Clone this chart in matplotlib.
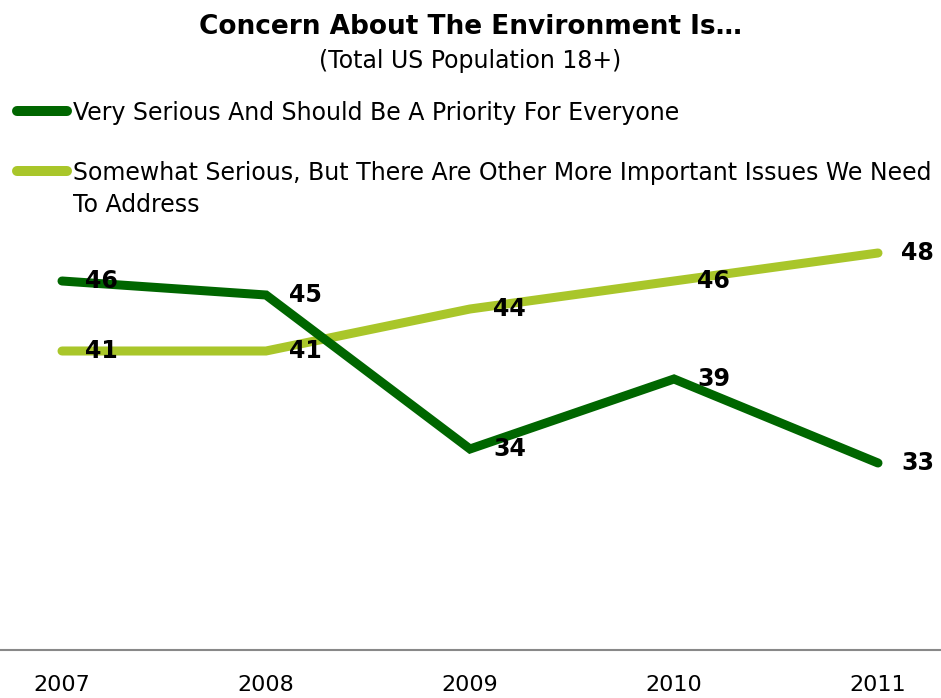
import matplotlib
matplotlib.use("Agg")
import matplotlib.pyplot as plt
from matplotlib.lines import Line2D

years = [2007, 2008, 2009, 2010, 2011]
very_serious = [46, 45, 34, 39, 33]
somewhat_serious = [41, 41, 44, 46, 48]
series_names = ["Very Serious And Should Be A Priority For Everyone",
                "Somewhat Serious, But There Are Other More Important Issues We Need\nTo Address"]
dark_green = "#006600"
light_green = "#A9C62A"

W, H = 941, 698
fig = plt.figure(figsize=(W / 100, H / 100), dpi=100)
plt.rcParams['font.family'] = ['DejaVu Sans']

ax = fig.add_axes([0, (H - 650) / H, 1, (650 - 230) / H])
ax.set_xlim(2007 - 62 / 204, 2007 + 879 / 204)
ax.set_ylim(46 - 369 / 14, 46 + 51 / 14)

ax.plot(years, very_serious, color=dark_green, lw=6.5, solid_capstyle='round', solid_joinstyle='miter', zorder=3)
ax.plot(years, somewhat_serious, color=light_green, lw=6.5, solid_capstyle='round', solid_joinstyle='miter', zorder=2)

for x, a, b in zip(years, very_serious, somewhat_serious):
    for v in (a, b):
        ax.annotate(str(v), (x, v), xytext=(28.5, 0), textcoords='offset points',
                    ha='center', va='center', fontsize=17, fontweight='bold', color='black', zorder=5)

for s in ['top', 'right', 'left']:
    ax.spines[s].set_visible(False)
ax.spines['bottom'].set_color('#888888')
ax.spines['bottom'].set_linewidth(1.5)
ax.set_yticks([])
ax.set_xticks(years)
ax.set_xticklabels([str(y) for y in years], fontsize=16)
ax.tick_params(axis='x', length=0, pad=18)

fig.text(0.5, 1 - 27 / H, "Concern About The Environment Is…", ha='center', va='center',
         fontsize=19, fontweight='bold')
fig.text(0.5, 1 - 61 / H, "(Total US Population 18+)", ha='center', va='center', fontsize=17)

# legend
for y, c, name in [(111, dark_green, series_names[0]), (171, light_green, series_names[1])]:
    fig.add_artist(Line2D([17 / W, 67 / W], [1 - y / H, 1 - y / H], color=c, lw=7.2,
                          solid_capstyle='round', transform=fig.transFigure))
    for k, line in enumerate(name.split("\n")):
        fig.text(73 / W, 1 - (y + 9 + 32 * k) / H, line, ha='left', va='baseline', fontsize=17)

fig.savefig("out.png", dpi=100)
